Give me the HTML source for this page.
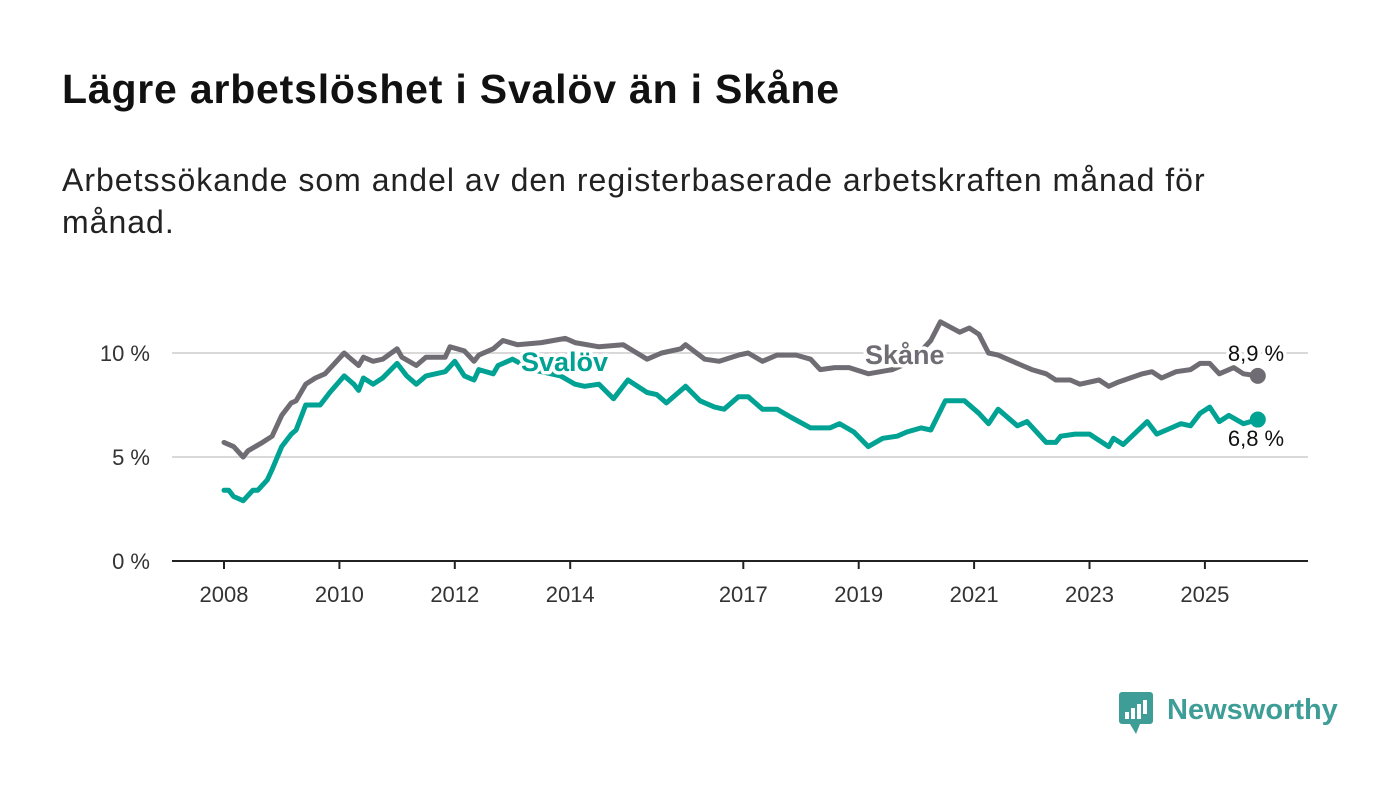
<!DOCTYPE html>
<html><head><meta charset="utf-8">
<style>
html,body{margin:0;padding:0;background:#fff;}
body{width:1400px;height:794px;position:relative;overflow:hidden;font-family:"Liberation Sans","DejaVu Sans",sans-serif;color:#111;}
#title{position:absolute;left:62px;top:66px;font-size:41px;font-weight:bold;margin:0;letter-spacing:0.8px;}
#subtitle{position:absolute;left:62px;top:159px;font-size:32px;line-height:42px;width:1190px;margin:0;color:#222;letter-spacing:1px;}
svg{position:absolute;left:0;top:0;}
</style></head><body>
<h1 id="title">Lägre arbetslöshet i Svalöv än i Skåne</h1>
<p id="subtitle">Arbetssökande som andel av den registerbaserade arbetskraften månad för månad.</p>
<svg id="chart" width="1400" height="794"></svg>
<script>
const skaneMonths=[0,2,4,5,8,10,12,14,15,17,19,21,23,25,26,28,29,31,33,36,37,40,42,46,47,50,52,53,56,58,61,66,71,73,78,83,88,91,95,96,100,103,107,109,112,115,119,122,124,127,130,134,139,143,147,149,153,155,157,159,161,166,168,171,173,176,178,182,184,186,191,193,195,198,201,203,205,207,210,212,215];
const skaneValues=[5.7,5.5,5.0,5.3,5.7,6.0,7.0,7.6,7.7,8.5,8.8,9.0,9.5,10.0,9.8,9.4,9.8,9.6,9.7,10.2,9.8,9.4,9.8,9.8,10.3,10.1,9.6,9.9,10.2,10.6,10.4,10.5,10.7,10.5,10.3,10.4,9.7,10.0,10.2,10.4,9.7,9.6,9.9,10.0,9.6,9.9,9.9,9.7,9.2,9.3,9.3,9.0,9.2,9.6,10.6,11.5,11.0,11.2,10.9,10.0,9.9,9.4,9.2,9.0,8.7,8.7,8.5,8.7,8.4,8.6,9.0,9.1,8.8,9.1,9.2,9.5,9.5,9.0,9.3,9.0,8.9];
const svalovMonths=[0,1,2,4,6,7,9,10,12,14,15,17,20,22,25,27,28,29,31,33,36,38,40,42,46,48,50,52,53,56,57,60,64,70,73,75,78,81,84,88,90,92,96,99,102,104,107,109,112,115,118,122,126,128,131,134,137,140,142,145,147,150,152,154,157,159,161,165,167,171,173,174,177,180,182,184,185,187,192,194,196,199,201,203,205,207,209,212,215];
const svalovValues=[3.4,3.4,3.1,2.9,3.4,3.4,3.9,4.4,5.5,6.1,6.3,7.5,7.5,8.1,8.9,8.5,8.2,8.8,8.5,8.8,9.5,8.9,8.5,8.9,9.1,9.6,8.9,8.7,9.2,9.0,9.4,9.7,9.2,8.9,8.5,8.4,8.5,7.8,8.7,8.1,8.0,7.6,8.4,7.7,7.4,7.3,7.9,7.9,7.3,7.3,6.9,6.4,6.4,6.6,6.2,5.5,5.9,6.0,6.2,6.4,6.3,7.7,7.7,7.7,7.1,6.6,7.3,6.5,6.7,5.7,5.7,6.0,6.1,6.1,5.8,5.5,5.9,5.6,6.7,6.1,6.3,6.6,6.5,7.1,7.4,6.7,7.0,6.6,6.8];
const yTicks=[0,5,10];
const yTickLabels=["0 %","5 %","10 %"];
const xTickYears=[2008,2010,2012,2014,2017,2019,2021,2023,2025];

const NS="http://www.w3.org/2000/svg";
const svg=document.getElementById('chart');
const yS=v=>561-v*20.8;
const xM=m=>224+m*57.7/12;
const xY=y=>224+(y-2008)*57.7;
function mk(tag,attrs,parent){const e=document.createElementNS(NS,tag);for(const k in attrs)e.setAttribute(k,attrs[k]);(parent||svg).appendChild(e);return e;}
const F='"Liberation Sans","DejaVu Sans",sans-serif';

yTicks.forEach((t,i)=>{
  if(t>0){const g=mk('line',{x1:172,x2:1308,y1:yS(t),y2:yS(t),stroke:'#d9d9d9','stroke-width':2});
  
  }
  const l=mk('text',{x:150,y:yS(t)+8,'text-anchor':'end','font-size':22,fill:'#333','font-family':F});
  l.textContent=yTickLabels[i];
  
  
});
const ax=mk('line',{x1:172,x2:1308,y1:561,y2:561,stroke:'#222','stroke-width':2});


xTickYears.forEach(y=>{
  const tk=mk('line',{x1:xY(y),x2:xY(y),y1:561,y2:569,stroke:'#222','stroke-width':2});
  
  
  const l=mk('text',{x:xY(y),y:602,'text-anchor':'middle','font-size':22,fill:'#333','font-family':F});
  l.textContent=y;
  
  
});
function line(ms,vs,color,name){
  const d=ms.map((m,i)=>(i?'L':'M')+xM(m).toFixed(1)+','+yS(vs[i]).toFixed(1)).join('');
  const p=mk('path',{d:d,fill:'none',stroke:color,'stroke-width':5,'stroke-linejoin':'round','stroke-linecap':'round'});
  
  
  const n=ms.length-1;
  const c=mk('circle',{cx:xM(ms[n]),cy:yS(vs[n]),r:8,fill:color});
  
  
}
line(skaneMonths,skaneValues,'#6f6d73','skane-line');
line(svalovMonths,svalovValues,'#00a294','svalov-line');
function label(txt,x,y,color,size,bold,name,anchor){
  const a={x:x,y:y,'font-size':size,fill:color,'font-family':F,'text-anchor':anchor||'start',stroke:'#fff','stroke-width':7,'stroke-linejoin':'round','paint-order':'stroke'};
  if(bold)a['font-weight']='bold';
  const t=mk('text',a);t.textContent=txt;
  
  
}
label('Svalöv',521,371,'#00a294',27,true,'svalov-label');
label('Skåne',865,364,'#6f6d73',27,true,'skane-label');
const sn=skaneValues.length-1, vn=svalovValues.length-1;
label(skaneValues[sn].toFixed(1).replace('.',',')+' %',1256,361,'#111',22,false,'skane-value-label','middle');
label(svalovValues[vn].toFixed(1).replace('.',',')+' %',1256,446,'#111',22,false,'svalov-value-label','middle');

const lg=mk('g',{});


mk('rect',{x:1119,y:692,width:34,height:32,rx:3,fill:'#3e9e97'},lg);
mk('path',{d:'M1130,724 L1136,734 L1140,724 Z',fill:'#3e9e97'},lg);
[[1125,712,4,7],[1131,708,4,11],[1137,704,4,15],[1143,700,4,14]].forEach(r=>mk('rect',{x:r[0],y:r[1],width:r[2],height:r[3],fill:'#fff'},lg));
const lt=mk('text',{x:1167,y:719,'font-size':29,'font-weight':'bold',fill:'#3e9e97','font-family':F},lg);
lt.textContent='Newsworthy';
</script>
</body></html>
